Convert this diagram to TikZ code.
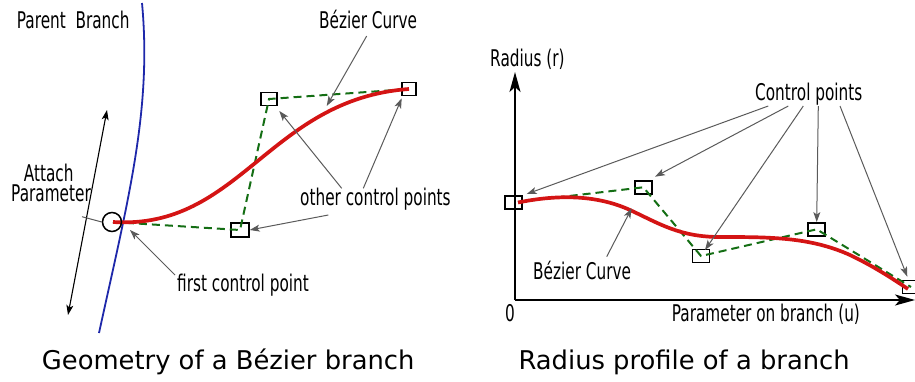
\documentclass[tikz,border=0pt]{standalone}
\usepackage{fontspec}
\setmainfont{DejaVu Sans}
\newfontfamily\labfont{DejaVu Sans}[FakeStretch=0.665]
\usetikzlibrary{arrows.meta}
\definecolor{curvered}{RGB}{212,20,20}
\definecolor{polygreen}{RGB}{20,110,20}
\definecolor{branchblue}{RGB}{30,40,170}
\definecolor{leadgray}{RGB}{90,90,90}
\begin{document}
\begin{tikzpicture}[x=1pt,y=-1pt,
  lab/.style={font={\labfont\fontsize{23}{19}\selectfont}, inner sep=0pt, anchor=base west},
  ttl/.style={font={\fontsize{25.8}{30}\selectfont}, inner sep=0pt, anchor=base west},
  cpbox/.style={draw=black, line width=1.5pt, minimum width=16pt, minimum height=13pt, inner sep=0pt},
  bcurve/.style={draw=curvered, line width=3.7pt},
  poly/.style={draw=polygreen, line width=2pt, dash pattern=on 8pt off 5pt},
  leader/.style={draw=leadgray, line width=1pt, -{Stealth[length=10pt,width=7pt,inset=2.5pt]}},
  axis/.style={draw=black, line width=2pt, -{Stealth[length=20pt,width=11pt,inset=5pt]}},
]
\useasboundingbox (0,0) rectangle (915,381);

% ---------------- left panel ----------------
\coordinate (btop) at (142,3);
\coordinate (bbot) at (99,333);
\draw[branchblue, line width=1.8pt] (btop) .. controls (152,110) and (128,200) .. (bbot);

\coordinate (p0) at (113,222);
\node[cpbox, minimum width=18pt, minimum height=14pt] (l1) at (240,230) {};
\node[cpbox] (l2) at (269,99) {};
\node[cpbox, minimum width=14pt] (l3) at (409,89) {};

\draw[poly] (p0) -- (l1.center) -- (l2.center) -- (l3.center);
\draw[bcurve] (p0) .. controls (l1.center) and (l2.center) .. (l3.center);
\node[circle, draw=black, line width=1.5pt, minimum size=19pt, inner sep=0pt] (att) at (112,222) {};

% double arrow along parent branch
\coordinate (da1) at (107,110);
\coordinate (da2) at (68,315);
\draw[black, line width=1.1pt, {Stealth[length=10pt,width=7pt,inset=2.5pt]}-{Stealth[length=10pt,width=7pt,inset=2.5pt]}] (da1) -- (da2);

% labels
\node[lab] (parent) at (16.7,28.3) {Parent\ \ Branch};
\node[lab] (bezl) at (319,28.3) {Bézier Curve};
\node[lab, anchor=base] (attach) at (48.7,181.5) {Attach};
\node[lab, anchor=base] (param) at (51,201.7) {Parameter};
\node[lab] (other) at (300,205) {other control points};
\node[lab] (first) at (177,291.7) {first control point};

\coordinate (attl) at (82,216.7);
\draw[leadgray, line width=1pt] (attl) -- (att.west);

\coordinate (bz1) at (366.7,36);
\coordinate (bz2) at (326.7,106);
\draw[leader] (bz1) -- (bz2);
\coordinate (oc1) at (341.7,188.3);
\coordinate (oc2) at (363.3,188.3);
\coordinate (oc3) at (328.3,215);
\coordinate (fc1) at (175,275);
\draw[leader] (oc1) -- (279.3,111);
\draw[leader] (oc2) -- (401.7,98.3);
\draw[leader] (oc3) -- (l1.east);
\draw[leader] (fc1) -- (130,230);

% ---------------- right panel ----------------
\coordinate (o) at (515,300);
\coordinate (ytip) at (515,72);
\coordinate (xtip) at (915,300);
\draw[axis] (o) -- (ytip);
\draw[axis] (o) -- (xtip);

\node[cpbox, minimum width=17pt] (r0) at (513.3,202.3) {};
\node[cpbox, minimum width=17pt] (r1) at (643.3,187.3) {};
\node[cpbox, minimum width=17pt] (r2) at (701,256) {};
\node[cpbox, minimum width=17pt] (r3) at (816.7,229.3) {};
\node[cpbox, minimum width=17pt] (r4) at (911,287) {};

\draw[poly] (518,202) -- (r1.center) -- (r2.center) -- (r3.center) -- (r4.center);
\coordinate (rs) at (518,202.5);
\coordinate (re) at (908,289);
\draw[bcurve] (rs) .. controls (555,195) and (595,194) .. (630,210)
  .. controls (660,224) and (680,237) .. (720,237)
  .. controls (770,237) and (810,237) .. (850,255)
  .. controls (875,267) and (893,279) .. (re);

\node[lab] (radius) at (490,66.7) {Radius (r)};
\node[lab] (zero) at (505,321.7) {0};
\node[lab] (param2) at (671.7,321.7) {Parameter on branch (u)};
\node[lab] (ctrl) at (755,100) {Control points};
\node[lab] (bezr) at (533,279) {Bézier Curve};

\coordinate (cp1) at (768.3,106);
\coordinate (cp2) at (788.3,106);
\coordinate (cp3) at (803.3,106);
\coordinate (cp4) at (818.3,106);
\coordinate (cp5) at (840,106);
\draw[leader] (cp1) -- (526.7,194);
\draw[leader] (cp2) -- (655,176.7);
\draw[leader] (cp3) -- (705,250);
\draw[leader] (cp4) -- (r3.north);
\draw[leader] (cp5) -- (907.3,276.7);
\coordinate (bzr1) at (606.7,256.7);
\draw[leader] (bzr1) -- (631.7,208.3);

% ---------------- titles ----------------
\node[ttl] (t1) at (41.7,369.5) {Geometry of a Bézier branch};
\node[ttl] (t2) at (518.3,369.5) {Radius profile of a branch};
\end{tikzpicture}
\end{document}
